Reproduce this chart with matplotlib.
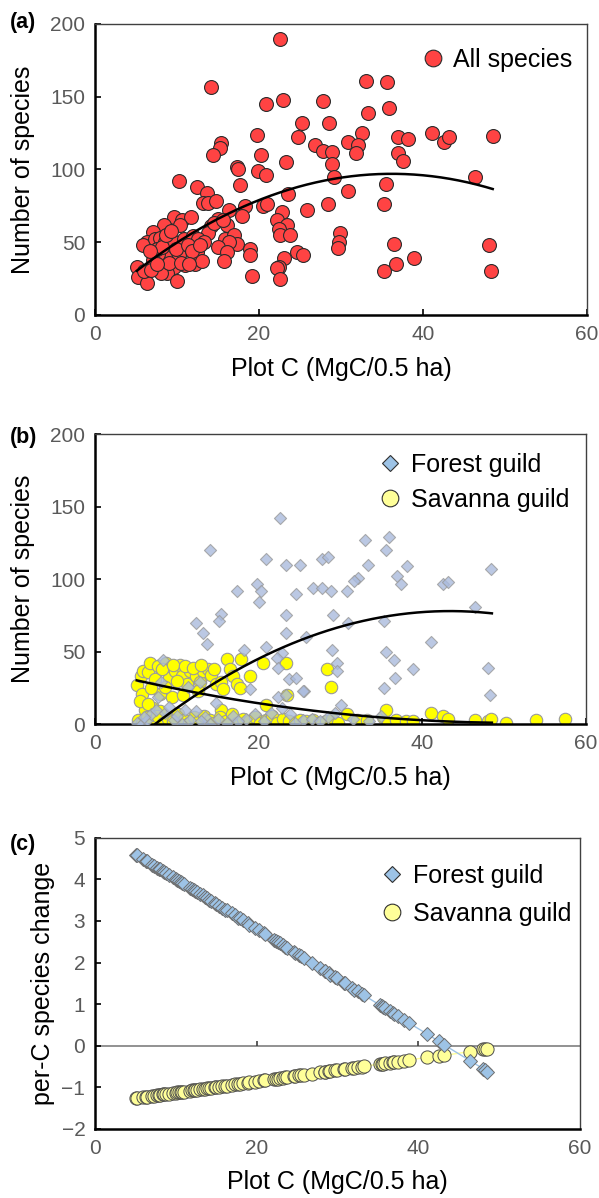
import numpy as np
import matplotlib
matplotlib.use('Agg')
import matplotlib.pyplot as plt
from matplotlib.lines import Line2D

plt.rcParams['font.family'] = ['Liberation Sans', 'DejaVu Sans']

# ---- panel (a): all species per plot ----
a_x = [22.6, 14.1, 20.9, 22.9, 27.8, 25.2, 28.5, 19.8, 24.7, 15.4, 15.2, 14.4, 20.3, 26.8, 27.8, 28.9,
       28.9, 23.3, 17.3, 17.4, 19.9, 20.9, 29.1, 10.2, 17.7, 12.4, 13.6, 23.5, 13.2, 13.8, 14.8, 18.3,
       20.5, 21.0, 28.4, 25.8, 22.8, 16.3, 9.6, 10.6, 11.7, 10.4, 8.4, 15.0, 16.1, 17.9, 22.2, 23.4,
       14.2, 13.8, 7.1, 6.3, 5.9, 7.3, 7.9, 8.5, 9.1, 9.6, 10.8, 12.0, 12.6, 13.3, 15.9, 16.9, 17.3,
       16.3, 15.0, 22.4, 22.6, 23.8, 16.1, 18.9, 18.9, 24.6, 25.4, 12.4, 12.2, 13.0, 11.0, 10.2, 8.5,
       7.7, 7.1, 9.6, 8.8, 8.0, 15.7, 23.0, 22.4, 22.2, 5.1, 5.2, 6.4, 10.0, 19.1, 22.5,
       6.0, 6.8, 7.5, 8.2, 6.7, 9.9, 11.3, 11.8, 9.0, 10.5, 12.8, 14.5, 15.6, 11.5, 8.7, 9.3, 7.5,
       33.0, 35.6, 35.9, 33.3, 32.5, 30.8, 32.1, 31.8, 37.0, 38.2, 41.1, 42.5, 43.2, 48.5, 36.9, 37.5,
       35.5, 30.9, 35.3, 46.4, 29.9, 29.7, 29.6, 36.5, 38.9, 36.7, 35.3, 48.0, 48.3]
a_y = [190, 157, 145, 148, 147, 132, 132, 124, 122, 118, 115, 110, 110, 117, 113, 112,
       104, 105, 102, 100, 99, 96, 95, 92, 89, 88, 84, 83, 77, 77, 78, 75,
       75, 76, 76, 72, 71, 72, 67, 65, 67, 62, 62, 66, 62, 68, 65, 62,
       61, 56, 57, 50, 48, 52, 53, 50, 52, 50, 52, 54, 52, 50, 52, 55, 49,
       50, 47, 59, 55, 55, 43, 45, 41, 43, 41, 43, 35, 37, 34, 41, 40,
       42, 38, 33, 29, 29, 37, 39, 33, 32, 33, 26, 22, 23, 27, 25,
       30, 31, 45, 47, 44, 45, 48, 44, 36, 36, 48, 63, 65, 35, 55, 58, 35,
       161, 160, 142, 139, 125, 119, 117, 111, 122, 121, 125, 119, 122, 123, 111, 106,
       90, 85, 76, 95, 56, 50, 46, 49, 39, 35, 30, 48, 30]
a_fit = [-0.0689, 4.987, 6.76]      # quadratic fit, highest power first
a_fit_range = [5.1, 48.5]

# ---- panel (b): forest and savanna guild species per plot ----
forest_x = [22.6, 14.1, 20.9, 23.3, 25.1, 27.7, 28.5, 17.3, 19.8, 20.3, 20.0, 24.6, 26.7, 27.8, 28.9,
            29.1, 15.4, 15.2, 12.4, 13.2, 13.7, 23.3, 23.4, 25.8, 18.2, 20.9, 22.8, 22.2, 29.0, 29.6,
            22.4, 23.7, 24.6, 18.9, 25.5, 14.8, 22.4, 23.4, 8.3,
            5.1, 5.7, 6.3, 6.9, 7.5, 8.5, 9.6, 10.6, 11.6, 12.4, 13.4, 14.0, 16.1, 16.9, 18.5, 20.7,
            21.5, 22.8, 23.8, 25.4, 28.5, 29.3, 7.7, 8.1, 11.4, 12.8,
            6.0, 9.0, 10.0, 11.0, 13.0, 15.0, 17.5, 19.5, 24.5, 26.5, 27.5, 31.5, 33.5, 35.0,
            33.0, 35.9, 35.6, 33.3, 38.1, 32.1, 31.7, 36.9, 37.4, 42.5, 43.1, 48.4, 30.8, 30.9, 35.3,
            46.4, 41.1, 29.6, 35.5, 36.5, 38.9, 36.7, 35.3, 48.0, 48.3, 30.0, 25.4]
forest_y = [142, 120, 114, 110, 110, 114, 115, 92, 97, 92, 84, 90, 94, 94, 92,
            75, 76, 71, 70, 63, 55, 75, 63, 60, 51, 53, 49, 46, 51, 42,
            39, 31, 32, 24, 23, 15, 19, 20, 44,
            1, 0, 3, 7, 10, 8, 3, 0, 3, 9, 5, 0, 1, 6, 4, 2,
            8, 11, 7, 3, 5, 8, 19, 29, 26, 29,
            5, 12, 6, 10, 2, 4, 2, 7, 1, 4, 2, 4, 2, 6,
            127, 129, 120, 110, 109, 101, 99, 102, 97, 97, 98, 107, 92, 70, 71,
            81, 57, 37, 50, 44, 38, 32, 25, 39, 20, 13, 23]
savanna_x = [5.1, 5.6, 5.7, 5.9, 6.5, 6.7, 7.3, 7.9, 7.7, 8.7, 9.1, 9.8, 10.4, 10.6, 11.2, 9.4,
             6.1, 7.1, 7.9, 11.6, 12.4, 12.8, 13.2, 13.8, 14.2, 14.8, 15.4, 16.1, 16.5, 16.9, 17.3,
             17.7, 17.9, 18.9, 20.5, 20.9, 23.4, 23.5, 28.4, 28.9, 15.4, 15.6, 12.6,
             8.2, 9.5, 10.0, 11.0, 12.0, 6.9, 8.5, 14.5, 13.0, 10.8, 5.5, 6.5,
             5.3, 5.8, 6.4, 7.0, 7.6, 8.3, 8.9, 9.5, 10.2, 10.9, 11.5, 12.1, 12.7, 13.3, 14.0, 14.6,
             15.3, 16.0, 16.7, 17.4, 18.1, 18.8, 19.5, 20.2, 20.9, 21.6, 22.3, 23.0, 23.7, 24.4,
             25.1, 25.8, 26.6, 27.4, 28.2, 29.0, 29.7, 30.8, 32.0, 33.2, 35.2, 35.5, 35.8, 36.8,
             38.0, 38.8, 41.1, 42.5, 43.1, 46.4, 48.0, 48.4, 50.2, 53.9, 57.4]
savanna_y = [27, 33, 21, 37, 36, 42, 31, 21, 40, 42, 32, 37, 41, 33, 28, 19,
             10, 11, 9, 37, 33, 29, 37, 38, 34, 28, 29, 45, 38, 33, 28,
             25, 45, 33, 42, 13, 42, 20, 38, 26, 10, 24, 23,
             38, 41, 30, 40, 39, 25, 26, 38, 41, 20, 16, 14,
             3, 1, 5, 2, 6, 1, 4, 2, 7, 3, 1, 5, 2, 6, 3, 1,
             5, 2, 7, 1, 4, 2, 5, 1, 3, 6, 1, 4, 2, 1,
             3, 2, 3, 1, 2, 4, 1, 7, 3, 3, 5, 10, 1, 3,
             2, 2, 8, 6, 4, 3, 2, 4, 1, 3, 4]
forest_fit = [-0.0599, 5.199, -34.8]
savanna_fit = [0.0136, -1.4008, 37.07]
b_fit_range = [5.1, 48.5]

# ---- panel (c): per-C species change for each plot ----
c_x = [5.1, 5.2, 5.9, 6.3, 6.4, 7.1, 7.3, 7.7, 7.9, 8.0, 8.4, 8.5, 8.8, 9.1, 9.6, 10.0, 10.2, 10.4,
       10.6, 10.8, 11.0, 11.7, 12.0, 12.2, 12.4, 12.6, 13.0, 13.3, 13.6, 13.8, 14.1, 14.4, 14.8, 15.0,
       15.4, 15.7, 16.1, 16.3, 16.9, 17.3, 17.7, 17.9, 18.3, 18.9, 19.1, 19.8, 20.3, 20.9, 21.0, 22.2,
       22.4, 22.6, 22.9, 23.3, 23.5, 23.8, 24.6, 24.7, 25.2, 25.5, 25.8, 26.8, 27.8, 28.4, 28.5, 28.9,
       29.1, 29.7, 29.9, 30.8, 30.9, 31.8, 32.1, 32.5, 33.0, 33.3, 35.3, 35.5, 35.6, 35.9, 36.5, 36.9,
       37.0, 37.5, 38.2, 38.9, 41.1, 42.5, 43.2, 46.4, 48.0, 48.3, 48.5]
c_forest = [4.59, 4.58, 4.49, 4.45, 4.43, 4.35, 4.33, 4.28, 4.25, 4.24, 4.19, 4.18, 4.15, 4.11, 4.05,
            4.00, 3.98, 3.95, 3.93, 3.91, 3.88, 3.80, 3.76, 3.74, 3.71, 3.69, 3.64, 3.61, 3.57, 3.55,
            3.51, 3.47, 3.43, 3.40, 3.36, 3.32, 3.27, 3.25, 3.18, 3.13, 3.08, 3.06, 3.01, 2.94, 2.91,
            2.83, 2.77, 2.70, 2.68, 2.54, 2.52, 2.49, 2.46, 2.41, 2.38, 2.35, 2.25, 2.24, 2.18, 2.15,
            2.11, 1.99, 1.87, 1.80, 1.79, 1.74, 1.71, 1.64, 1.62, 1.51, 1.50, 1.39, 1.35, 1.31, 1.25,
            1.21, 0.97, 0.95, 0.94, 0.90, 0.83, 0.78, 0.77, 0.71, 0.62, 0.54, 0.28, 0.11, 0.02,
            -0.36, -0.55, -0.59, -0.63]
c_savanna = [-1.26, -1.26, -1.24, -1.23, -1.23, -1.21, -1.20, -1.19, -1.19, -1.18, -1.17, -1.17, -1.16,
             -1.15, -1.14, -1.13, -1.12, -1.12, -1.11, -1.11, -1.10, -1.08, -1.07, -1.07, -1.06, -1.06,
             -1.05, -1.04, -1.03, -1.02, -1.02, -1.01, -1.00, -0.99, -0.98, -0.97, -0.96, -0.96, -0.94,
             -0.93, -0.92, -0.91, -0.90, -0.89, -0.88, -0.86, -0.85, -0.83, -0.83, -0.80, -0.79, -0.79,
             -0.78, -0.77, -0.76, -0.75, -0.73, -0.73, -0.71, -0.71, -0.70, -0.67, -0.64, -0.63, -0.62,
             -0.61, -0.61, -0.59, -0.59, -0.56, -0.56, -0.53, -0.53, -0.52, -0.50, -0.49, -0.44, -0.43,
             -0.43, -0.42, -0.41, -0.40, -0.39, -0.38, -0.36, -0.34, -0.28, -0.24, -0.23, -0.14, -0.09,
             -0.09, -0.08]

xlabel = 'Plot C (MgC/0.5 ha)'
tick_gray = '#595959'
lab_fs = 18
tick_fs = 15


def style_axes(ax):
    for s in ['left', 'bottom']:
        ax.spines[s].set_linewidth(1.8)
        ax.spines[s].set_color('black')
    for s in ['top', 'right']:
        ax.spines[s].set_linewidth(1.0)
        ax.spines[s].set_color('#404040')
    ax.tick_params(direction='in', length=4, width=1.2, labelsize=tick_fs,
                   labelcolor=tick_gray, color='black', pad=7)
    ax.set_xlim(0, 60)
    ax.set_xticks([0, 20, 40, 60])


fig = plt.figure(figsize=(5.99, 11.98), dpi=100)

# (a)
ax1 = fig.add_axes([0.1586, 0.7371, 0.8214, 0.2429])
fx = np.linspace(a_fit_range[0], a_fit_range[1], 200)
ax1.scatter(a_x, a_y, s=100, c='#ff4343', edgecolors='#2b2b2b', linewidths=0.8, zorder=2)
ax1.plot(fx, np.polyval(a_fit, fx), color='black', lw=1.8, zorder=3)
style_axes(ax1)
ax1.set_ylim(0, 200)
ax1.set_yticks([0, 50, 100, 150, 200])
ax1.set_ylabel('Number of species', fontsize=lab_fs)
ax1.yaxis.set_label_coords(-0.122, 0.5)
ax1.set_xlabel(xlabel, fontsize=lab_fs)
ax1.xaxis.set_label_coords(0.5, -0.145)
h = [Line2D([], [], ls='none', marker='o', ms=12, mfc='#ff4343', mec='#2b2b2b', mew=0.8)]
ax1.legend(h, ['All species'], loc='upper left', bbox_to_anchor=(0.625, 0.977), frameon=False,
           fontsize=lab_fs, handletextpad=0.3, handlelength=1.0, borderpad=0.2)

# (b)
ax2 = fig.add_axes([0.1586, 0.3954, 0.8197, 0.2423])
ax2.scatter(savanna_x, savanna_y, s=80, c='#ffff00', edgecolors='#9a9a9a', linewidths=0.8, zorder=2)
ax2.scatter(forest_x, forest_y, s=38, marker='D', c='#aabbdd', edgecolors='#9a9a9a',
            linewidths=0.8, alpha=0.8, zorder=3)
fx = np.linspace(b_fit_range[0], b_fit_range[1], 200)
ax2.plot(fx, np.polyval(forest_fit, fx), color='black', lw=1.8, zorder=4)
ax2.plot(fx, np.polyval(savanna_fit, fx), color='black', lw=1.8, zorder=4)
style_axes(ax2)
ax2.set_ylim(0, 200)
ax2.set_yticks([0, 50, 100, 150, 200])
ax2.set_ylabel('Number of species', fontsize=lab_fs)
ax2.yaxis.set_label_coords(-0.122, 0.5)
ax2.set_xlabel(xlabel, fontsize=lab_fs)
ax2.xaxis.set_label_coords(0.5, -0.144)

guild_handles = [Line2D([], [], ls='none', marker='D', ms=8, mfc='#9dc3e6', mec='#303030', mew=0.8),
                 Line2D([], [], ls='none', marker='o', ms=12, mfc='#ffff99', mec='#303030', mew=0.8)]
guild_labels = ['Forest guild', 'Savanna guild']
ax2.legend(guild_handles, guild_labels, loc='upper left', bbox_to_anchor=(0.54, 0.995),
           frameon=False, fontsize=lab_fs, handletextpad=0.35, handlelength=1.0,
           labelspacing=0.45, borderpad=0.2)

# (c)
ax3 = fig.add_axes([0.1586, 0.0576, 0.8097, 0.2432])
ax3.axhline(0, color='#7f7f7f', lw=1.2, zorder=1)
ax3.plot(c_x, c_savanna, color='#ffff99', lw=1, marker='o', ms=9.5, mfc='#ffff99',
         mec='#4d4d4d', mew=0.7, zorder=2)
ax3.plot(c_x, c_forest, color='#9dc3e6', lw=1, marker='D', ms=7, mfc='#9dc3e6',
         mec='#6e6e6e', mew=0.7, zorder=3)
style_axes(ax3)
ax3.set_ylim(-2, 5)
ax3.set_yticks(range(-2, 6))
ax3.tick_params(axis='x', length=0)
# tick marks sit on the zero line as in the original
ax3.vlines([20, 40], 0, 0.12, color='#404040', lw=1.2, zorder=1)
ax3.set_ylabel('per-C species change', fontsize=lab_fs)
ax3.yaxis.set_label_coords(-0.082, 0.5)
ax3.set_xlabel(xlabel, fontsize=lab_fs)
ax3.xaxis.set_label_coords(0.5, -0.141)
ax3.legend(guild_handles, guild_labels, loc='upper left', bbox_to_anchor=(0.55, 0.97),
           frameon=False, fontsize=lab_fs, handletextpad=0.35, handlelength=1.0,
           labelspacing=0.55, borderpad=0.2)

for lab, y in [('(a)', 0.9816), ('(b)', 0.635), ('(c)', 0.2947)]:
    fig.text(0.017, y, lab, fontsize=15.5, fontweight='bold', va='center', ha='left')

fig.savefig('out.png', dpi=100)
